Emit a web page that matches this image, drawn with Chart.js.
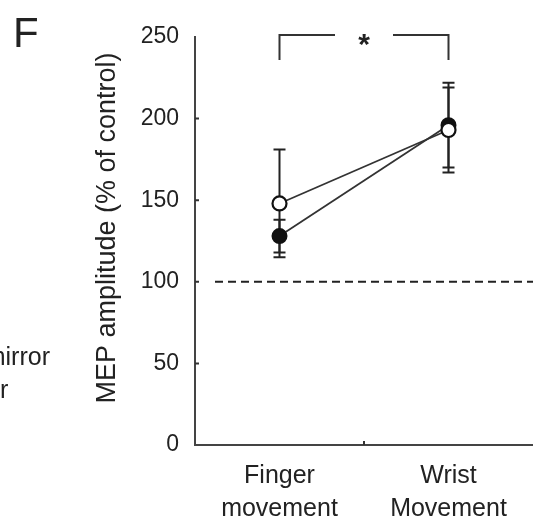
<!DOCTYPE html>
<html>
<head>
<meta charset="utf-8">
<script src="https://cdn.jsdelivr.net/npm/chart.js@4.4.0/dist/chart.umd.min.js"></script>
<style>
  html, body { margin: 0; padding: 0; background: #fff; }
</style>
</head>
<body>
<canvas id="myChart" width="533" height="521"></canvas>
<script>
// data
const categories = [['Finger', 'movement'], ['Wrist', 'Movement']];
const openValues = [148, 193];
const openErrors = [33, 26];
const filledValues = [128, 196];
const filledErrors = [10, 26];
const yTicks = [0, 50, 100, 150, 200, 250];
const controlLevel = 100;
const yTitle = 'MEP amplitude (% of control)';

const ctx = document.getElementById('myChart');
const FONT = '"Liberation Sans", Arial, sans-serif';
const INK = '#222';

function drawErrors(chart, values, errors) {
  const c = chart.ctx, xs = chart.scales.x, ys = chart.scales.y;
  for (var i = 0; i < values.length; i++) {
    var px = xs.getPixelForValue(i);
    var top = ys.getPixelForValue(values[i] + errors[i]);
    var bot = ys.getPixelForValue(values[i] - errors[i]);
    c.beginPath();
    c.moveTo(px, top); c.lineTo(px, bot);
    c.moveTo(px - 6, top); c.lineTo(px + 6, top);
    c.moveTo(px - 6, bot); c.lineTo(px + 6, bot);
    c.stroke();
  }
}

const extras = {
  id: 'extras',
  beforeDatasetsDraw(chart) {
    const c = chart.ctx, xs = chart.scales.x, ys = chart.scales.y;
    c.save();
    // dashed control line
    c.strokeStyle = '#222';
    c.lineWidth = 2;
    c.setLineDash([8, 5]);
    var yc = ys.getPixelForValue(controlLevel);
    c.beginPath(); c.moveTo(xs.left + 20, yc); c.lineTo(xs.right, yc); c.stroke();
    c.setLineDash([]);
    // error bars
    c.strokeStyle = '#222';
    drawErrors(chart, filledValues, filledErrors);
    drawErrors(chart, openValues, openErrors);
    c.restore();
  },
  afterDraw(chart) {
    const c = chart.ctx, xs = chart.scales.x, ys = chart.scales.y;
    c.save();
    c.fillStyle = INK;
    c.strokeStyle = '#333';
    c.lineWidth = 2;

    // small inward tick marks
    c.beginPath();
    for (var i = 1; i < yTicks.length - 1; i++) {
      var ty = ys.getPixelForValue(yTicks[i]);
      c.moveTo(ys.right, ty); c.lineTo(ys.right + 4, ty);
    }
    var mid = (xs.getPixelForValue(0) + xs.getPixelForValue(1)) / 2;
    c.moveTo(mid, xs.top); c.lineTo(mid, xs.top - 4);
    c.stroke();

    // significance bracket
    var x1 = xs.getPixelForValue(0), x2 = xs.getPixelForValue(1);
    var bt = chart.chartArea.top - 2, bb = bt + 25;
    c.beginPath();
    c.moveTo(x1, bb); c.lineTo(x1, bt); c.lineTo(mid - 29, bt);
    c.moveTo(mid + 29, bt); c.lineTo(x2, bt); c.lineTo(x2, bb);
    c.stroke();
    c.font = 'bold 30px ' + FONT;
    c.textAlign = 'center';
    c.textBaseline = 'alphabetic';
    c.fillText('*', mid, 54);

    // panel letter and cut-off text from neighbouring panel
    c.textAlign = 'left';
    c.font = '42px ' + FONT;
    c.fillText('F', 13, 47);
    c.font = '25px ' + FONT;
    c.textAlign = 'right';
    c.fillText('mirror', 50, 365);
    c.textAlign = 'left';
    c.fillText('r', 0, 398);

    // y axis title
    c.translate(108, 228);
    c.rotate(-Math.PI / 2);
    c.textAlign = 'center';
    c.textBaseline = 'middle';
    c.font = '27px ' + FONT;
    c.fillText(yTitle, 0, 0);
    c.restore();
  }
};

new Chart(ctx, {
  type: 'line',
  data: {
    labels: categories,
    datasets: [{
      label: 'open',
      data: openValues,
      borderColor: '#333',
      borderWidth: 1.8,
      pointRadius: 7,
      pointBorderWidth: 2.2,
      pointBackgroundColor: '#fff',
      pointBorderColor: '#111'
    }, {
      label: 'filled',
      data: filledValues,
      borderColor: '#333',
      borderWidth: 1.8,
      pointRadius: 7,
      pointBorderWidth: 2,
      pointBackgroundColor: '#111',
      pointBorderColor: '#111'
    }]
  },
  options: {
    responsive: false,
    animation: false,
    clip: false,
    layout: { autoPadding: false, padding: { top: 37, left: 0, right: 0, bottom: 0 } },
    plugins: { legend: { display: false }, tooltip: { enabled: false } },
    scales: {
      x: {
        type: 'category',
        offset: true,
        grid: { display: false, drawTicks: false },
        border: { display: true, color: '#444', width: 2 },
        ticks: {
          color: INK,
          padding: 15,
          maxRotation: 0,
          font: { family: FONT, size: 25, lineHeight: 1.32 }
        },
        afterFit: function (scale) { scale.height = 76; }
      },
      y: {
        min: 0,
        max: 250,
        afterBuildTicks: function (scale) {
          scale.ticks = yTicks.map(function (v) { return { value: v }; });
        },
        grid: { display: false, drawTicks: false },
        border: { display: true, color: '#444', width: 2 },
        ticks: {
          color: INK,
          padding: 16,
          font: { family: FONT, size: 23 }
        },
        afterFit: function (scale) { scale.width = 195; }
      }
    }
  },
  plugins: [extras]
});
</script>
</body>
</html>
